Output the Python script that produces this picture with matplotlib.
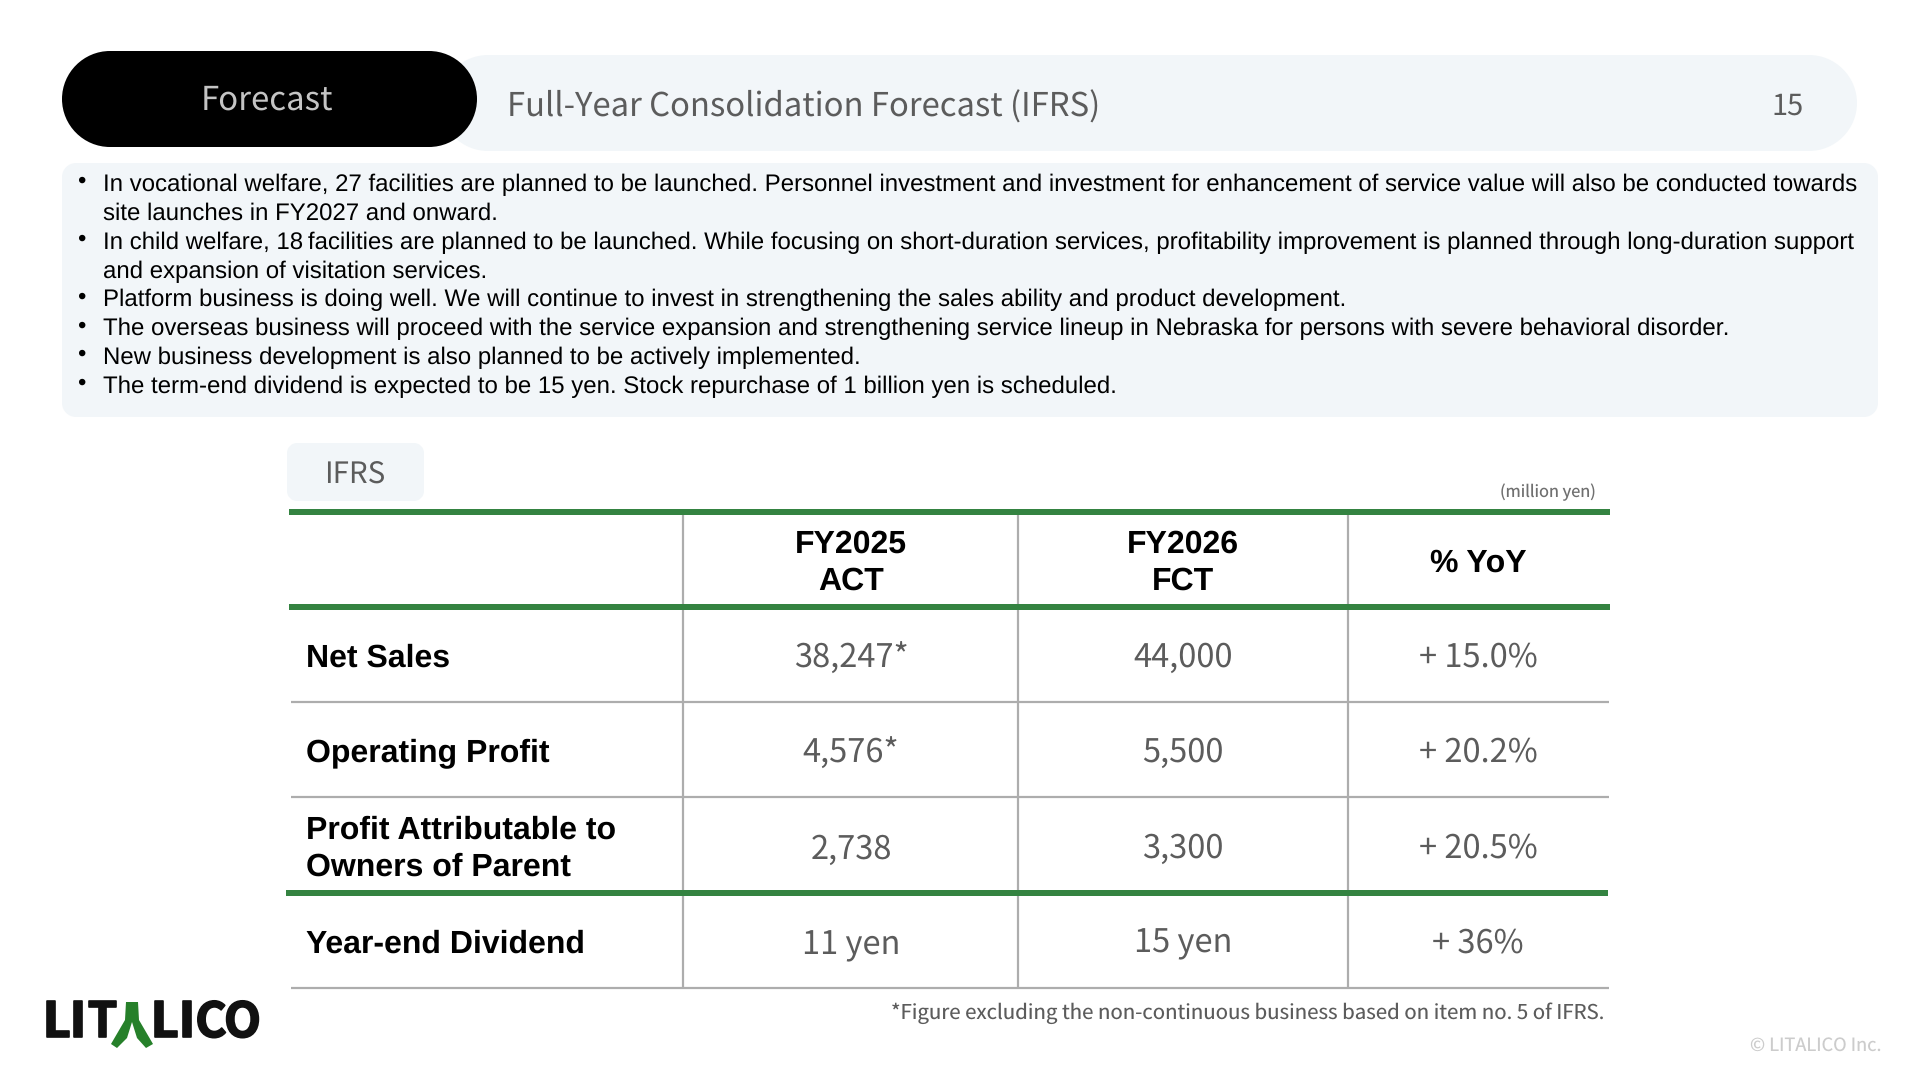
import matplotlib
matplotlib.use("Agg")
import matplotlib.pyplot as plt
import matplotlib.patheffects as pe
from matplotlib.patches import PathPatch
from matplotlib.path import Path

plt.rcParams["text.hinting"] = "no_hinting"
plt.rcParams["text.hinting_factor"] = 1

section = "Forecast"
title = "Full-Year Consolidation Forecast (IFRS)"
page = "15"
bullets = [
    ["In vocational welfare, 27 facilities are planned to be launched. Personnel investment and investment for enhancement of service value will also be conducted towards",
     "site launches in FY2027 and onward."],
    ["In child welfare, 18\u2009facilities are planned to be launched. While focusing on short-duration services, profitability improvement is planned through long-duration support",
     "and expansion of visitation services."],
    ["Platform business is doing well. We will continue to invest in strengthening the sales ability and product development."],
    ["The overseas business will proceed with the service expansion and strengthening service lineup in Nebraska for persons with severe behavioral disorder."],
    ["New business development is also planned to be actively implemented."],
    ["The term-end dividend is expected to be 15 yen. Stock repurchase of 1 billion yen is scheduled."],
]
columns = ["FY2025\nACT", "FY2026\nFCT", "% YoY"]
rows = ["Net Sales", "Operating Profit", "Profit Attributable to\nOwners of Parent", "Year-end Dividend"]
fy2025 = ["38,247*", "4,576*", "2,738", "11 yen"]
fy2026 = ["44,000", "5,500", "3,300", "15 yen"]
yoy = ["+ 15.0%", "+ 20.2%", "+ 20.5%", "+ 36%"]
footnote = "*Figure excluding the non-continuous business based on item no. 5 of IFRS."
logo_letters = ["L", "I", "T", "L", "I", "C", "O"]
logo_x = [57, 78, 102.5, 165, 187, 211, 242.5]

LIGHT = "#f2f6f9"
GREEN = "#348341"
GREY = "#adadad"
THIN = "Noto Sans CJK JP"
ARIAL = "Liberation Sans"
SOFT = "#5c5c5c"


def px(n):
    return n * 0.72


def box(ax, x0, y0, x1, y1, r, color, z=1):
    k = r * 0.45
    verts = [(x0 + r, y0), (x1 - r, y0), (x1 - k, y0), (x1, y0 + k), (x1, y0 + r),
             (x1, y1 - r), (x1, y1 - k), (x1 - k, y1), (x1 - r, y1),
             (x0 + r, y1), (x0 + k, y1), (x0, y1 - k), (x0, y1 - r),
             (x0, y0 + r), (x0, y0 + k), (x0 + k, y0), (x0 + r, y0), (x0 + r, y0)]
    codes = [Path.MOVETO, Path.LINETO, Path.CURVE4, Path.CURVE4, Path.CURVE4,
             Path.LINETO, Path.CURVE4, Path.CURVE4, Path.CURVE4,
             Path.LINETO, Path.CURVE4, Path.CURVE4, Path.CURVE4,
             Path.LINETO, Path.CURVE4, Path.CURVE4, Path.CURVE4, Path.CLOSEPOLY]
    ax.add_patch(PathPatch(Path(verts, codes), fc=color, ec="none", zorder=z))


fig = plt.figure(figsize=(19.2, 10.8), dpi=100)
ax = fig.add_axes([0, 0, 1, 1])
ax.set_xlim(0, 1920)
ax.set_ylim(1080, 0)
ax.axis("off")

# header
box(ax, 440, 55, 1857, 151, 48, LIGHT)
box(ax, 62, 51, 477, 147, 48, "black", 2)
ax.text(267, 100.5, section, color="#c4c4c4", fontsize=px(33), family=THIN,
        ha="center", va="center", zorder=3)
ax.text(507, 107, title, color=SOFT, fontsize=px(32.8), family=THIN,
        ha="left", va="center")
ax.text(1788, 106.5, page, color=SOFT, fontsize=px(29), family=THIN,
        ha="center", va="center")

# bullet text
box(ax, 62, 163, 1878, 417, 14, LIGHT)
y = 191
for item in bullets:
    ax.text(81, y - 3, "•", fontsize=px(24), family=ARIAL, color="black", ha="center", va="baseline")
    for line in item:
        ax.text(103, y, line, fontsize=px(23.85), family=ARIAL, color="black", ha="left", va="baseline")
        y += 28.85

# table
box(ax, 287, 443, 424, 501, 10, LIGHT)
ax.text(355, 474.5, "IFRS", color=SOFT, fontsize=px(29.5), family=THIN,
        ha="center", va="center")
ax.text(1596, 492, "(million yen)", color="#707070", fontsize=px(16.4), family=THIN,
        ha="right", va="center")

col_lines = [682.5, 1018, 1348]
col_mid = [851, 1183, 1478]
row_lines = [702, 797, 988]
row_mid = [656, 751, 847, 942]

for x in col_lines:
    ax.plot([x, x], [512, 988], color=GREY, lw=px(2.2), solid_capstyle="butt", zorder=1)
for yy in row_lines:
    ax.plot([291, 1609], [yy, yy], color=GREY, lw=px(2.2), solid_capstyle="butt", zorder=1)
ax.plot([289, 1610], [512, 512], color=GREEN, lw=px(6), solid_capstyle="butt", zorder=2)
ax.plot([289, 1610], [607, 607], color=GREEN, lw=px(6), solid_capstyle="butt", zorder=2)
ax.plot([286, 1608], [893, 893], color=GREEN, lw=px(6), solid_capstyle="butt", zorder=2)

for x, name in zip(col_mid, columns):
    ax.text(x, 563, name, fontsize=px(32.3), family=ARIAL, weight="bold", color="black",
            ha="center", va="center", linespacing=1.32)

for yy, name in zip(row_mid, rows):
    ax.text(306, yy + 2, name, fontsize=px(32), family=ARIAL, weight="bold",
            color="black", ha="left", va="center", linespacing=1.32)

for vals, x, off in zip([fy2025, fy2026, yoy], col_mid, [3, 1.5, 1.5]):
    for yy, v in zip(row_mid, vals):
        ax.text(x, yy + off, v, fontsize=px(32.6), family=THIN, color=SOFT,
                ha="center", va="center")

ax.text(1604, 1013.5, footnote, fontsize=px(20.4), family=THIN, color=SOFT,
        ha="right", va="center")
ax.text(1882, 1045.5, "© LITALICO Inc.", fontsize=px(18.2), family=THIN, color="#cccccc",
        ha="right", va="center")

# logo
for x, letter in zip(logo_x, logo_letters):
    ax.text(x, 1037, letter, fontsize=px(48), family=THIN, weight="bold", color="#111111",
            ha="center", va="baseline",
            path_effects=[pe.withStroke(linewidth=1.2, foreground="#111111")])
leaf = [(126, 1002), (138, 1002), (139, 1020), (153, 1044), (146, 1048), (137, 1038), (132, 1022),
        (127, 1038), (117, 1048), (111, 1044), (125, 1020), (126, 1002)]
ax.add_patch(PathPatch(Path(leaf), fc="#26802a", ec="none", zorder=3))

fig.savefig("out.png", dpi=100)
